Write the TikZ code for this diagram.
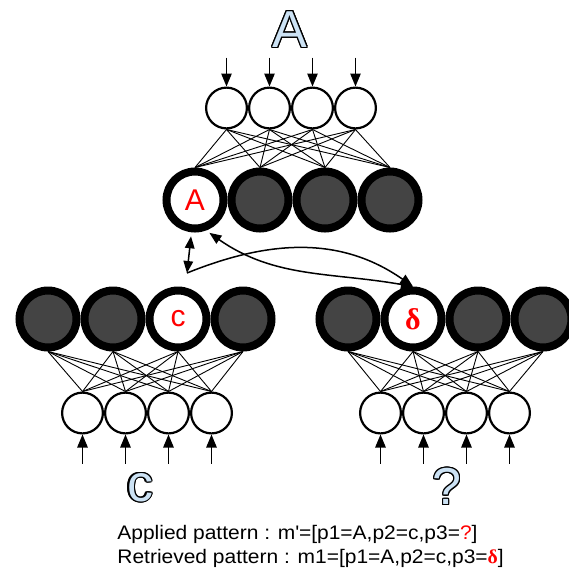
\documentclass[tikz,border=0pt]{standalone}
\usepackage{fontspec}
\setmainfont{Liberation Sans}
\newfontfamily\notefont[FakeStretch=1.07]{Liberation Sans}
\newfontfamily\greekfont{Liberation Serif}
\usepackage{xcolor}
\usepackage{contour}
\contourlength{0.55pt}
\usepackage{tikz}
\usetikzlibrary{arrows.meta, positioning, calc}

\definecolor{hollow}{RGB}{204,226,244}
\definecolor{silent}{RGB}{68,68,68}

\begin{document}
\begin{tikzpicture}[x=0.5pt, y=-0.5pt,
                % Define styles
                unit/.style={circle, draw, line width=1.1pt, fill=white, minimum size=20.4pt, inner sep=0pt},
                cell/.style={circle, draw, line width=4pt, minimum size=28.5pt, inner sep=0pt, text=red, font=\fontsize{15}{15}\selectfont},
                idle/.style={cell, fill=silent},
                winner/.style={cell, fill=white},
                link/.style={line width=0.45pt},
                feed/.style={draw, line width=0.75pt, -{Triangle[length=6.5pt, width=5.2pt]}},
                recall/.style={draw, line width=0.75pt, {Triangle[length=6pt, width=4.8pt]}-{Triangle[length=6pt, width=4.8pt]}},
                symbol/.style={inner sep=0pt, font=\fontsize{26}{26}\selectfont},
                note/.style={inner sep=0pt, anchor=base west, font=\notefont\fontsize{9.8}{11}\selectfont}
            ]
            \useasboundingbox (0,0) rectangle (569,575);

            % --- Nodes ---

            % 1. Module A (top)
            \node [symbol] (symA) at (290,30) {\color{hollow}\contour{black}{A}};
            \foreach \i in {1,...,4}
                \node [unit] (inA\i) at ({226.5+43*(\i-1)},108) {};
            \node [winner] (codeA1) at (195,200) {A};
            \node [idle, right=0pt of codeA1] (codeA2) {};
            \node [idle, right=0pt of codeA2] (codeA3) {};
            \node [idle, right=0pt of codeA3] (codeA4) {};

            % 2. Module c (bottom left)
            \node [idle] (codeC1) at (48,319) {};
            \node [idle, right=0pt of codeC1] (codeC2) {};
            \node [winner, right=0pt of codeC2] (codeC3) {c};
            \node [idle, right=0pt of codeC3] (codeC4) {};
            \foreach \i in {1,...,4}
                \node [unit] (inC\i) at ({82.5+43*(\i-1)},413) {};
            \node [symbol] (symC) at (140,488) {\color{hollow}\contour{black}{c}};

            % 3. Module ? (bottom right)
            \node [idle] (codeQ1) at (348,319) {};
            \node [winner, right=0pt of codeQ1] (codeQ2) {\greekfont\bfseries δ};
            \node [idle, right=0pt of codeQ2] (codeQ3) {};
            \node [idle, right=0pt of codeQ3] (codeQ4) {};
            \foreach \i in {1,...,4}
                \node [unit] (inQ\i) at ({380.5+43*(\i-1)},413) {};
            \node [symbol] (symQ) at (447,487) {\color{hollow}\contour{black}{?}};

            % input stubs
            \foreach \i in {1,...,4} {
                \coordinate (srcA\i) at ($(inA\i.north)+(0,-29)$);
                \coordinate (srcC\i) at ($(inC\i.south)+(0,29)$);
                \coordinate (srcQ\i) at ($(inQ\i.south)+(0,29)$);
            }
            \coordinate (cue) at (187,273);

            % --- Edges ---
            \foreach \i in {1,...,4} {
                \draw [feed] (srcA\i) -- (inA\i);
                \draw [feed] (srcC\i) -- (inC\i);
                \draw [feed] (srcQ\i) -- (inQ\i);
                \foreach \j in {1,...,4} {
                    \draw [link] (inA\i.south) -- (codeA\j.north);
                    \draw [link] (codeC\j.south) -- (inC\i.north);
                    \draw [link] (codeQ\j.south) -- (inQ\i.north);
                }
            }

            % --- Recall between modules ---
            \draw [recall, shorten <=2pt] (codeA1) -- (cue);
            \draw [recall, shorten <=2pt] (codeA1.-70) to[out=-35, in=170] (codeQ2.north);
            \draw [feed] (cue) to[out=22, in=145] (codeQ2.north);

            % --- Patterns ---
            \node [note] (applied) at (117,539.5) {Applied pattern : m\textquotesingle=[p1=A,p2=c,p3=\textcolor{red}{?}]};
            \node [note] (retrieved) at (117,563) {Retrieved pattern : m1=[p1=A,p2=c,p3={\color{red}\greekfont\bfseries δ}]};

        \end{tikzpicture}
\end{document}
